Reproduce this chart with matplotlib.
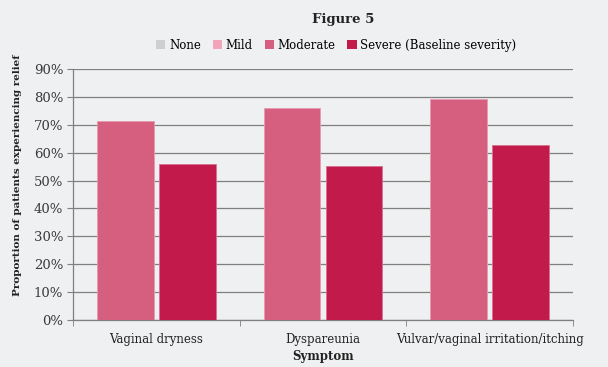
import matplotlib
matplotlib.use("Agg")
import matplotlib.pyplot as plt
from matplotlib.patches import Patch
import numpy as np

categories = ["Vaginal dryness", "Dyspareunia", "Vulvar/vaginal irritation/itching"]
series_names = ["None", "Mild", "Moderate", "Severe (Baseline severity)"]
moderate = [71.3, 75.9, 79.2]
severe = [55.9, 55.3, 62.7]
yticks = [0, 10, 20, 30, 40, 50, 60, 70, 80, 90]

colors = {"None": "#cfcfd1", "Mild": "#f0a5b9", "Moderate": "#d65f80",
          "Severe (Baseline severity)": "#c21a4a"}
bg = "#eff0f2"

plt.rcParams['font.family'] = ['DejaVu Serif']

fig = plt.figure(figsize=(6.08, 3.67), dpi=100, facecolor=bg)
ax = fig.add_axes([0.120, 0.128, 0.8224, 0.684], facecolor=bg)

x = np.arange(len(categories))
w = 0.34
off = 0.186
ax.bar(x - off, moderate, w, color=colors["Moderate"], edgecolor="#e69ab0", linewidth=0.6, zorder=3)
ax.bar(x + off, severe, w, color=colors["Severe (Baseline severity)"], edgecolor="#d9708f", linewidth=0.6, zorder=3)

ax.set_ylim(0, 90)
ax.set_xlim(-0.5, len(categories) - 0.5)
ax.set_yticks(yticks)
ax.set_yticklabels([f"{v}%" for v in yticks], fontsize=9.5, color="#3a3a3a")
ax.yaxis.grid(True, color="#7f7f7f", linewidth=0.9, zorder=0)
ax.set_axisbelow(True)

ax.set_xticks(x)
ax.set_xticklabels(categories, fontsize=8.5, color="#222222")
ax.tick_params(axis='x', which='major', length=0, pad=9)
ax.set_xticks(np.arange(-0.5, len(categories), 1.0), minor=True)
ax.tick_params(axis='x', which='minor', length=4, color="#7f7f7f", direction='out')
ax.tick_params(axis='y', length=4, color="#7f7f7f", direction='out', pad=3)

for s in ["top", "right"]:
    ax.spines[s].set_visible(False)
for s in ["left", "bottom"]:
    ax.spines[s].set_color("#7f7f7f")
    ax.spines[s].set_linewidth(0.9)

ax.set_ylabel("Proportion of patients experiencing relief", fontsize=7.5,
              fontweight="bold", color="#222222")
ax.yaxis.set_label_coords(-0.102, 0.578)
ax.set_xlabel("Symptom", fontsize=8.5, fontweight="bold", color="#222222", labelpad=3)

fig.text(0.564, 0.948, "Figure 5", ha="center", va="center", fontsize=9.5,
         fontweight="bold", color="#222222")

handles = [Patch(facecolor=colors[n], edgecolor="none") for n in series_names]
fig.legend(handles, series_names, loc="center", bbox_to_anchor=(0.553, 0.876),
           ncol=4, frameon=False, fontsize=8.5, handlelength=0.8, handleheight=0.8,
           handletextpad=0.3, columnspacing=1.0, borderaxespad=0)

fig.savefig("out.png", dpi=100, facecolor=bg)
